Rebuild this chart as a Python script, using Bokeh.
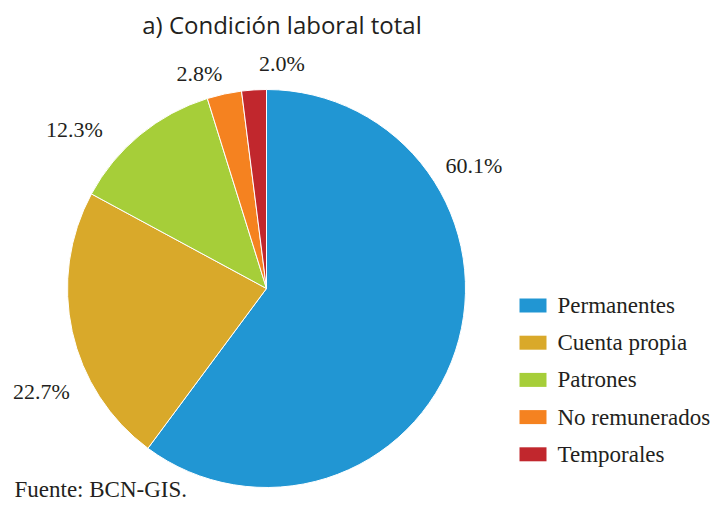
import math
from bokeh.plotting import figure
from bokeh.models import ColumnDataSource, Range1d
from bokeh.core.properties import value
from bokeh.embed import file_html
from bokeh.resources import INLINE

# ---- data ----
categories = ["Permanentes", "Cuenta propia", "Patrones", "No remunerados", "Temporales"]
values = [60.1, 22.7, 12.3, 2.8, 2.0]
labels = ["60.1%", "22.7%", "12.3%", "2.8%", "2.0%"]
colors = ["#2196D3", "#D9A92A", "#A6CE39", "#F58220", "#C1272D"]

title_text = "a) Condición laboral total"
source_text = "Fuente: BCN-GIS."

# ---- layout (page pixel coordinates; y measured downward) ----
W, H = 715, 506
cx, cy, R = 266, 288, 199
TDY = 8  # text baseline correction
label_pos = [(473.5, 173), (41, 399), (74, 137), (199, 81), (281.5, 71)]
leg_x0, leg_top0, leg_dy = 519, 298, 37.2
leg_sw, leg_sh = 27, 14
leg_text_x, leg_base0 = 557, 313

p = figure(width=W, height=H, output_backend="svg", toolbar_location=None,
           x_range=Range1d(0, W), y_range=Range1d(-H, 0),
           min_border=0, outline_line_color=None)
p.axis.visible = False
p.grid.visible = False
p.background_fill_color = "white"
p.border_fill_color = "white"

total = sum(values)
starts, ends = [], []
a = math.pi / 2
for v in values:
    starts.append(a)
    a -= 2 * math.pi * v / total
    ends.append(a)

src = ColumnDataSource(dict(start=starts, end=ends, color=colors, cat=categories))
p.wedge(x=cx, y=-cy, radius=R, start_angle="start", end_angle="end",
        direction="clock", fill_color="color", line_color="white",
        line_width=1, source=src)

# percentage labels
lsrc = ColumnDataSource(dict(x=[q[0] for q in label_pos],
                             y=[-(q[1] - TDY) for q in label_pos], t=labels))
p.text(x="x", y="y", text="t", source=lsrc, text_align="center",
       text_baseline="alphabetic", text_font=value("Liberation Serif"),
       text_font_size="22px", text_color="#231F20")

# legend
n = len(categories)
rx = [leg_x0 + leg_sw / 2] * n
ry = [-(leg_top0 + i * leg_dy + leg_sh / 2) for i in range(n)]
gsrc = ColumnDataSource(dict(x=rx, y=ry, color=colors))
p.rect(x="x", y="y", width=leg_sw, height=leg_sh, fill_color="color",
       line_color=None, source=gsrc)
tsrc = ColumnDataSource(dict(x=[leg_text_x] * n,
                             y=[-(leg_base0 + i * leg_dy - TDY) for i in range(n)],
                             t=categories))
p.text(x="x", y="y", text="t", source=tsrc, text_align="left",
       text_baseline="alphabetic", text_font=value("Liberation Serif"),
       text_font_size="23px", text_color="#231F20")

# title
p.text(x=[281.5], y=[-(32 - TDY)], text=[title_text], text_align="center",
       text_baseline="alphabetic", text_font=value("Open Sans"),
       text_font_size="24px", text_color="#231F20")

# source
p.text(x=[14], y=[-(497 - TDY)], text=[source_text], text_align="left",
       text_baseline="alphabetic", text_font=value("Liberation Serif"),
       text_font_size="23px", text_color="#231F20")

open("out.html", "w").write(file_html(p, INLINE))
